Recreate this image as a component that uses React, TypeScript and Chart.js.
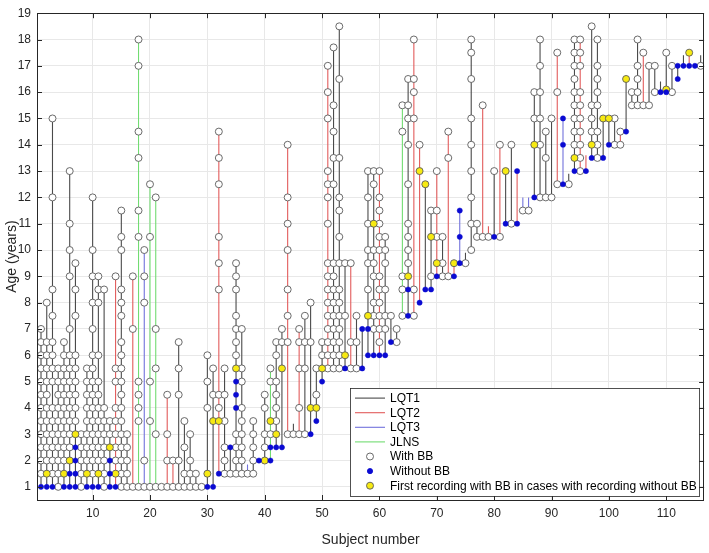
import React, { useEffect, useRef } from "react";
import { Chart, registerables } from "chart.js";

Chart.register(...registerables);

// Genotype of each subject (subject number = index + 1)
const genotype: string[] = [
  "LQT1", "LQT1", "LQT1", "LQT1", "LQT1", "LQT1", "LQT1", "LQT1", "LQT1", "LQT1",
  "LQT1", "LQT1", "LQT1", "LQT2", "LQT1", "LQT1", "LQT2", "JLNS", "LQT3", "JLNS",
  "JLNS", "LQT1", "LQT2", "LQT2", "LQT1", "LQT1", "LQT1", "LQT1", "LQT1", "LQT1",
  "LQT1", "LQT2", "LQT1", "LQT1", "LQT1", "LQT1", "LQT3", "LQT1", "LQT1", "LQT1",
  "JLNS", "LQT1", "LQT1", "LQT2", "LQT1", "LQT2", "LQT1", "LQT1", "LQT1", "LQT1",
  "LQT2", "LQT1", "LQT1", "LQT1", "LQT2", "LQT1", "LQT1", "LQT1", "LQT1", "LQT2",
  "LQT1", "LQT1", "LQT1", "JLNS", "LQT1", "LQT2", "LQT2", "LQT1", "LQT1", "LQT2",
  "LQT1", "LQT2", "LQT2", "LQT3", "LQT1", "LQT1", "LQT1", "LQT2", "LQT2", "LQT1",
  "LQT2", "LQT1", "LQT1", "LQT2", "LQT3", "LQT3", "LQT1", "LQT1", "LQT1", "LQT1",
  "LQT2", "LQT3", "LQT1", "LQT1", "LQT2", "LQT2", "LQT1", "LQT1", "LQT1", "LQT1",
  "LQT1", "LQT2", "LQT1", "LQT1", "LQT1", "LQT2", "LQT1", "LQT1", "LQT1", "LQT1",
  "LQT1", "LQT1", "LQT1", "LQT2", "LQT1", "LQT1",
];

// Ages (years) of recordings taken with beta-blocker
const withBB: number[][] = [
  [1.5, 2, 2.5, 3, 3.5, 4, 4.5, 5, 5.5, 6, 6.5, 7],
  [2, 2.5, 3, 3.5, 4, 4.5, 5, 5.5, 6, 6.5, 8],
  [1.5, 2, 2.5, 3, 3.5, 4, 5, 5.5, 6, 6.5, 7.5, 8.5, 12, 15],
  [1, 1.5, 2, 2.5, 3, 3.5, 4, 4.5, 5, 5.5],
  [2, 2.5, 3, 3.5, 4, 4.5, 5, 5.5, 6, 6.5],
  [2.5, 3, 3.5, 4, 4.5, 5, 5.5, 6, 7, 9, 10, 11, 13],
  [3.5, 4, 4.5, 5, 5.5, 6, 7.5, 8.5, 9.5],
  [1, 1.5, 2, 2.5, 3],
  [2, 2.5, 3, 3.5, 4, 4.5, 5, 5.5],
  [1.5, 2, 2.5, 3, 3.5, 4, 4.5, 5, 5.5, 6, 7, 8, 9, 10, 12],
  [2, 2.5, 3, 3.5, 4, 4.5, 5, 6, 8, 8.5, 9],
  [1, 1.5, 2, 2.5, 3, 3.5, 4, 8.5],
  [3, 3.5],
  [2, 2.5, 3, 3.5, 4, 5, 5.5, 9],
  [1, 1.5, 2, 2.5, 3, 3.5, 4, 4.5, 5, 5.5, 6, 6.5, 7.5, 8, 8.5, 10, 10.5, 11.5],
  [1, 1.5, 2, 2.5, 3],
  [1, 7, 9],
  [1, 3.5, 4, 4.5, 5, 10.5, 11.5, 13.5, 14.5, 17, 18],
  [1, 2, 8, 9, 10],
  [1, 3.5, 5, 10.5, 12.5],
  [1, 3, 5.5, 7, 12],
  [1],
  [1, 2, 3, 4.5],
  [1, 2],
  [1, 2, 4.5, 5.5, 6.5],
  [1, 1.5, 2.5, 3.5],
  [1, 1.5, 2, 3],
  [1, 1.5],
  [1],
  [4, 5, 6],
  [4.5, 5.5],
  [4, 4.5, 8.5, 9.5, 10.5, 12.5, 13.5, 14.5],
  [1.5, 2, 2.5, 3.5, 4.5, 5.5],
  [1.5],
  [1.5, 2, 2.5, 3, 6, 6.5, 7, 7.5, 8.5, 9, 9.5],
  [1.5, 2, 2.5, 3, 3.5, 4, 5, 5.5, 7],
  [1.5],
  [1.5, 2, 2.5, 3, 3.5],
  [],
  [2.5, 3, 4, 4.5],
  [3, 5, 5.5],
  [3.5, 4, 4.5, 5, 6, 6.5],
  [6.5, 7],
  [3, 6.5, 7.5, 8.5, 10, 11, 12, 14],
  [3],
  [3, 4, 5.5, 6.5, 7],
  [3, 5.5, 6.5, 7.5],
  [6.5, 8],
  [4.5, 5.5],
  [6, 6.5],
  [5.5, 6, 6.5, 7, 7.5, 8, 8.5, 9, 9.5, 11, 12, 12.5, 13, 15, 16, 17],
  [5.5, 6, 6.5, 7, 7.5, 8, 8.5, 9, 9.5, 12.5, 13.5, 14.5, 15.5, 17.7],
  [5.5, 6, 6.5, 7, 7.5, 8, 8.5, 9.5, 10.5, 11.5, 12, 13.5, 16.5, 18.5],
  [7.5, 9.5],
  [5.5, 6.5, 9.5],
  [5.5, 6.5, 7.5],
  [],
  [8.5, 9.5, 10, 11, 12, 13],
  [7, 7.5, 8, 9, 9.5, 10, 12.5, 13],
  [6.5, 7, 7.5, 8, 8.5, 9, 10, 10.5, 11, 11.5, 12, 13],
  [7, 7.5, 8.5, 9.5, 10, 10.5],
  [7.5],
  [6.5, 7],
  [7.5, 8.5, 9, 14.5, 15.5],
  [9.5, 10, 10.5, 11, 12.5, 14, 15, 15.5, 16.5],
  [7.5, 8.5, 15, 16, 16.5, 18],
  [14],
  [],
  [9, 11.5],
  [10.5, 11.5, 13],
  [9, 9.5, 10.5],
  [9, 13.5, 14.5],
  [],
  [],
  [9.5],
  [10, 11, 12, 13, 14, 15, 16.5, 17.5, 18],
  [10.5, 11],
  [10.5, 15.5],
  [10.5],
  [13],
  [10.5, 14],
  [],
  [11, 14],
  [],
  [11.5],
  [11.5],
  [15, 16],
  [12, 14, 15, 16, 17, 18],
  [12, 13.5, 14.5],
  [12, 15],
  [12.5, 16, 17.5],
  [],
  [12.5],
  [14, 14.5, 15, 15.5, 16, 16.5, 17, 17.5, 18],
  [13, 13.5, 14, 14.5, 15, 15.5, 16, 17, 17.5, 18],
  [],
  [14.5, 15, 15.5, 18.5],
  [13.5, 14, 14.5, 15.5, 16, 16.5, 17, 18],
  [],
  [],
  [14, 15],
  [14, 14.5],
  [],
  [15.5, 16],
  [15.5, 16, 16.5, 17, 18],
  [15.5, 17.5],
  [15.5, 17],
  [16, 17],
  [],
  [17.5],
  [16, 17],
  [],
  [],
  [],
  [],
  [17],
];

// Ages of recordings taken without beta-blocker
const withoutBB: number[][] = [
  [1], [1], [1], [], [1], [1, 1.5], [1, 1.5, 2, 2.5], [], [1], [1],
  [1], [], [1, 1.5, 2], [1], [], [], [], [], [], [],
  [], [], [], [], [], [], [], [], [], [1],
  [1], [1.5], [], [2.5], [4, 4.5, 5], [], [], [], [2], [],
  [2, 2.5], [2.5], [2.5], [], [], [], [], [3], [3.5], [5],
  [], [], [], [5.5], [], [], [5.5, 7], [6, 7], [6], [6],
  [6], [6.5], [], [], [7.5, 8.5], [], [8], [8.5], [8.5], [9],
  [], [], [9], [9.5, 10.5, 11.5], [], [], [], [], [], [10.5],
  [], [11], [], [11, 13], [], [], [12], [], [], [],
  [], [12.5, 14, 15], [], [13], [], [13], [13.5], [], [13.5], [14],
  [], [], [14.5], [], [], [], [], [], [16], [16],
  [], [16.5, 17], [17], [17], [17], [],
];

// First recording with beta-blocker after recordings without it
const firstWithBB: number[][] = [
  [], [1.5], [], [], [1.5], [2], [3], [], [1.5], [],
  [1.5], [], [2.5], [1.5], [], [], [], [], [], [],
  [], [], [], [], [], [], [], [], [], [1.5],
  [3.5], [3.5], [], [], [5.5], [], [], [], [], [2],
  [3.5], [3], [5.5], [], [], [], [], [4], [4], [5.5],
  [], [], [], [6], [], [], [], [7.5], [11], [],
  [], [], [], [], [9], [], [13], [12.5], [10.5], [9.5],
  [], [], [9.5], [], [], [], [], [], [], [],
  [], [13], [], [], [], [], [14], [], [], [],
  [], [], [], [13.5], [], [], [14], [], [15], [15],
  [], [], [16.5], [], [], [], [], [], [], [16.1],
  [], [], [], [17.5], [], [],
];

// Follow-up lines that run a little past the last marker (subject -> age)
const lineExtension: Record<number, number> = {
  37: 1.85, 45: 3.4, 75: 9.9, 79: 10.9, 85: 12, 86: 12, 93: 12.9,
  96: 13.6, 109: 16.4, 113: 17.4, 116: 17.4,
};

const xTicks = [10, 20, 30, 40, 50, 60, 70, 80, 90, 100, 110];
const yTicks = [1, 2, 3, 4, 5, 6, 7, 8, 9, 10, 11, 12, 13, 14, 15, 16, 17, 18, 19];

const genotypeOrder = ["LQT1", "LQT2", "LQT3", "JLNS"];
const lineColors: Record<string, string> = {
  LQT1: "#4a4a4a",
  LQT2: "#e25b5b",
  LQT3: "#7272dc",
  JLNS: "#72dc72",
};
const WHITE_EDGE = "#5a5a5a";
const BLUE = "#0a0ad2";
const YELLOW = "#f7ea12";
const AXIS = "#262626";
const FONT = "'Liberation Sans', Arial, Helvetica, sans-serif";

const legendEntries = [
  { label: "LQT1", kind: "line", color: lineColors.LQT1 },
  { label: "LQT2", kind: "line", color: lineColors.LQT2 },
  { label: "LQT3", kind: "line", color: lineColors.LQT3 },
  { label: "JLNS", kind: "line", color: lineColors.JLNS },
  { label: "With BB", kind: "marker", fill: "#ffffff", stroke: WHITE_EDGE, r: 3.5 },
  { label: "Without BB", kind: "marker", fill: BLUE, stroke: BLUE, r: 2.6 },
  {
    label: "First recording with BB in cases with recording without BB",
    kind: "marker",
    fill: YELLOW,
    stroke: WHITE_EDGE,
    r: 3.5,
  },
];

function buildDatasets() {
  const lines = genotypeOrder.map((g) => {
    const data: { x: number; y: number | null }[] = [];
    genotype.forEach((gt, i) => {
      if (gt !== g) return;
      const s = i + 1;
      const ages = [...withBB[i], ...withoutBB[i], ...firstWithBB[i]];
      if (lineExtension[s] !== undefined) ages.push(lineExtension[s]);
      if (!ages.length) return;
      data.push({ x: s, y: Math.min(...ages) });
      data.push({ x: s, y: Math.max(...ages) });
      data.push({ x: s, y: null });
    });
    return {
      label: g,
      data,
      showLine: true,
      spanGaps: false,
      borderColor: lineColors[g],
      borderWidth: 1.1,
      pointRadius: 0,
      order: 5,
    };
  });

  const pts = (arr: number[][]) =>
    arr.flatMap((ages, i) => ages.map((a) => ({ x: i + 1, y: a })));

  return [
    ...lines,
    {
      label: "With BB",
      data: pts(withBB),
      showLine: false,
      pointRadius: 3.5,
      pointBackgroundColor: "#ffffff",
      pointBorderColor: WHITE_EDGE,
      pointBorderWidth: 0.9,
      order: 3,
    },
    {
      label: "First recording with BB",
      data: pts(firstWithBB),
      showLine: false,
      pointRadius: 3.5,
      pointBackgroundColor: YELLOW,
      pointBorderColor: WHITE_EDGE,
      pointBorderWidth: 0.9,
      order: 2,
    },
    {
      label: "Without BB",
      data: pts(withoutBB),
      showLine: false,
      pointRadius: 2.6,
      pointBackgroundColor: BLUE,
      pointBorderColor: BLUE,
      pointBorderWidth: 0.5,
      order: 1,
    },
  ];
}

const framePlugin = {
  id: "frameAndLegend",
  afterDraw(chart: any) {
    const { ctx, chartArea, scales } = chart;
    const { left, right, top, bottom } = chartArea;
    ctx.save();
    ctx.strokeStyle = AXIS;
    ctx.lineWidth = 1;
    ctx.strokeRect(Math.round(left) + 0.5, Math.round(top) + 0.5, Math.round(right - left) - 1, Math.round(bottom - top));

    // inward tick marks on all four sides
    ctx.beginPath();
    const tl = 5;
    xTicks.forEach((v) => {
      const px = Math.round(scales.x.getPixelForValue(v)) + 0.5;
      ctx.moveTo(px, bottom);
      ctx.lineTo(px, bottom - tl);
      ctx.moveTo(px, top);
      ctx.lineTo(px, top + tl);
    });
    yTicks.forEach((v) => {
      const py = Math.round(scales.y.getPixelForValue(v)) + 0.5;
      ctx.moveTo(left, py);
      ctx.lineTo(left + tl, py);
      ctx.moveTo(right, py);
      ctx.lineTo(right - tl, py);
    });
    ctx.stroke();

    // legend box in the lower-right corner of the plot
    const boxLeft = 350;
    const boxRight = right - 5;
    const boxBottom = bottom - 4;
    const rowH = 14.6;
    const boxTop = boxBottom - rowH * legendEntries.length - 6;
    ctx.fillStyle = "#ffffff";
    ctx.fillRect(boxLeft, boxTop, boxRight - boxLeft, boxBottom - boxTop);
    ctx.strokeStyle = AXIS;
    ctx.lineWidth = 0.8;
    ctx.strokeRect(boxLeft + 0.5, Math.round(boxTop) + 0.5, boxRight - boxLeft, Math.round(boxBottom - boxTop));

    ctx.font = `12px ${FONT}`;
    ctx.textBaseline = "middle";
    ctx.textAlign = "left";
    legendEntries.forEach((e: any, i) => {
      const cy = boxTop + 3 + rowH * (i + 0.5);
      const x0 = boxLeft + 5;
      const x1 = boxLeft + 35;
      if (e.kind === "line") {
        ctx.strokeStyle = e.color;
        ctx.lineWidth = 1.1;
        ctx.beginPath();
        ctx.moveTo(x0, cy);
        ctx.lineTo(x1, cy);
        ctx.stroke();
      } else {
        ctx.beginPath();
        ctx.arc((x0 + x1) / 2, cy, e.r, 0, Math.PI * 2);
        ctx.fillStyle = e.fill;
        ctx.fill();
        ctx.strokeStyle = e.stroke;
        ctx.lineWidth = 0.9;
        ctx.stroke();
      }
      ctx.fillStyle = "#000000";
      ctx.fillText(e.label, x1 + 5, cy + 0.5);
    });
    ctx.restore();
  },
};

export default function App() {
  const canvasRef = useRef<HTMLCanvasElement | null>(null);

  useEffect(() => {
    const canvas = canvasRef.current;
    if (!canvas) return;
    const chart = new Chart(canvas, {
      type: "scatter",
      data: { datasets: buildDatasets() as any },
      options: {
        animation: false,
        responsive: false,
        events: [],
        layout: { padding: { top: 7, right: 1, left: 0, bottom: 0 } },
        plugins: {
          legend: { display: false },
          tooltip: { enabled: false },
        },
        scales: {
          x: {
            type: "linear",
            min: 0.3,
            max: 116.6,
            afterBuildTicks: (s: any) => {
              s.ticks = xTicks.map((v) => ({ value: v }));
            },
            afterFit: (s: any) => {
              s.height = 53;
            },
            grid: { color: "#e8e8e8", drawTicks: false, lineWidth: 1 },
            border: { display: false },
            ticks: {
              padding: 6,
              color: AXIS,
              maxRotation: 0,
              autoSkip: false,
              font: { family: FONT, size: 12 },
            },
            title: {
              display: true,
              text: "Subject number",
              color: AXIS,
              font: { family: FONT, size: 14 },
              padding: { top: 0, bottom: 4 },
            },
          },
          y: {
            type: "linear",
            min: 0.5,
            max: 19,
            afterBuildTicks: (s: any) => {
              s.ticks = yTicks.map((v) => ({ value: v }));
            },
            afterFit: (s: any) => {
              s.width = 37;
            },
            grid: { color: "#e8e8e8", drawTicks: false, lineWidth: 1 },
            border: { display: false },
            ticks: {
              padding: 6,
              color: AXIS,
              autoSkip: false,
              font: { family: FONT, size: 12 },
            },
            title: {
              display: true,
              text: "Age (years)",
              color: AXIS,
              font: { family: FONT, size: 14 },
              padding: { top: 4, bottom: 0 },
            },
          },
        },
      },
      plugins: [framePlugin],
    });
    return () => chart.destroy();
  }, []);

  return (
    <div style={{ position: "fixed", left: 0, top: 0, width: 709, height: 553, background: "#ffffff" }}>
      <canvas ref={canvasRef} width={709} height={553} style={{ display: "block", width: 709, height: 553 }} />
    </div>
  );
}
